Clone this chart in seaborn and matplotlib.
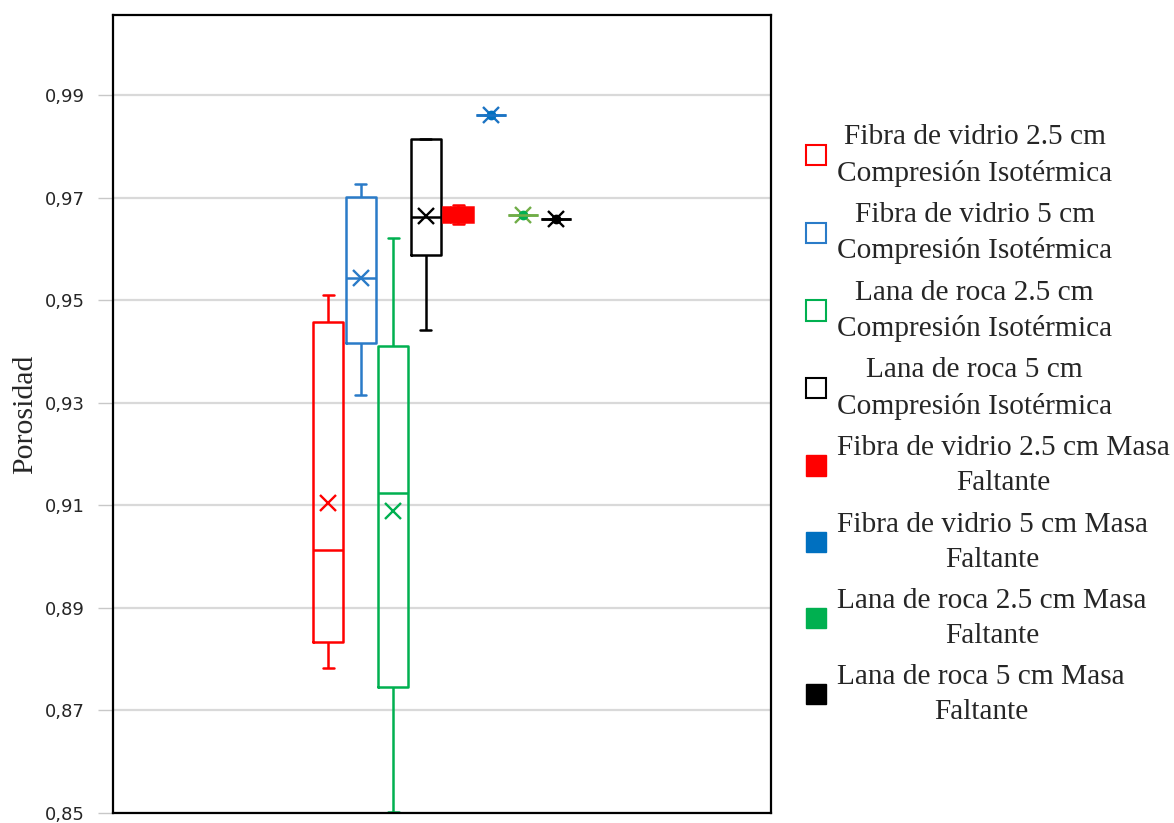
import matplotlib
matplotlib.use("Agg")
import matplotlib.pyplot as plt
from matplotlib.patches import Patch
import numpy as np
import pandas as pd
import seaborn as sns

# Datos (resumen de cinco numeros + media por serie)
series = [
    "Fibra de vidrio 2.5 cm\nCompresión Isotérmica",
    "Fibra de vidrio 5 cm\nCompresión Isotérmica",
    "Lana de roca 2.5 cm\nCompresión Isotérmica",
    "Lana de roca 5 cm\nCompresión Isotérmica",
    "Fibra de vidrio 2.5 cm Masa\nFaltante",
    "Fibra de vidrio 5 cm Masa\nFaltante",
    "Lana de roca 2.5 cm Masa\nFaltante",
    "Lana de roca 5 cm Masa\nFaltante",
]
minimos = [0.8782, 0.9315, 0.8502, 0.9441, 0.9649, 0.9861, 0.9666, 0.9659]
q1 = [0.8833, 0.9417, 0.8745, 0.9588, 0.9653, 0.9861, 0.9666, 0.9659]
medianas = [0.9013, 0.9544, 0.9125, 0.9663, 0.9667, 0.9861, 0.9666, 0.9659]
q3 = [0.9457, 0.9701, 0.9411, 0.9815, 0.9682, 0.9861, 0.9666, 0.9659]
maximos = [0.9511, 0.9727, 0.9621, 0.9815, 0.9685, 0.9861, 0.9666, 0.9659]
medias = [0.9104, 0.9544, 0.9088, 0.9664, 0.9667, 0.9861, 0.9666, 0.9659]

yticks = [0.85, 0.87, 0.89, 0.91, 0.93, 0.95, 0.97, 0.99]
ytick_labels = ["0,85", "0,87", "0,89", "0,91", "0,93", "0,95", "0,97", "0,99"]

colores_linea = ["#FF0000", "#2A7BC8", "#00B050", "#000000",
                 "#FF0000", "#1C74C4", "#70AD47", "#000000"]
colores_leyenda = ["#FF0000", "#2A7BC8", "#00B050", "#000000",
                   "#FF0000", "#0070C0", "#00B050", "#000000"]
relleno = [False, False, False, False, True, True, True, True]

rows = []
for s, a, b, c, d, e in zip(series, minimos, q1, medianas, q3, maximos):
    for v in (a, b, c, d, e):
        rows.append({"serie": s, "porosidad": v})
df = pd.DataFrame(rows)
df_media = pd.DataFrame({"serie": series, "media": medias})

sns.set_style("white")
plt.rcParams["font.family"] = ["DejaVu Sans"]

fig = plt.figure(figsize=(11.74, 8.23), dpi=100)
ax = fig.add_axes([113 / 1174, 1 - 813 / 823, 658 / 1174, 798 / 823])

for i, s in enumerate(series):
    c = colores_linea[i]
    sns.boxplot(data=df[df["serie"] == s], x="serie", y="porosidad", order=series,
                color=c, linecolor=c, fill=relleno[i], saturation=1,
                whis=(0, 100), width=0.92, linewidth=1.8, showfliers=False,
                capwidths=0.34, ax=ax)
    sns.pointplot(data=df_media[df_media["serie"] == s], x="serie", y="media",
                  order=series, color=c, marker="x", linestyle="none",
                  errorbar=None, markersize=12, markeredgewidth=1.7, ax=ax)
    if relleno[i]:
        sns.pointplot(data=df_media[df_media["serie"] == s], x="serie", y="media",
                      order=series, color=colores_leyenda[i], marker="o",
                      linestyle="none", errorbar=None, markersize=5, ax=ax)

ax.set_xlim(-6.62, 13.62)
ax.set_ylim(0.85, 0.85 + 798 / 5128)
ax.set_xticks([])
ax.set_xlabel("")
ax.set_yticks(yticks)
ax.set_yticklabels(ytick_labels, fontsize=13)
ax.tick_params(axis="y", length=10.5, width=1, color="#C8C8C8", pad=10, left=True)
ax.set_axisbelow(True)
ax.yaxis.grid(True, color="#D9D9D9", linewidth=1.6)
for sp in ax.spines.values():
    sp.set_color("black")
    sp.set_linewidth(1.6)

ax.set_ylabel("Porosidad", family="Liberation Serif", fontsize=21.5)
ax.yaxis.set_label_coords(-0.114, 0.5)

handles = []
for i in range(len(series)):
    if relleno[i]:
        handles.append(Patch(facecolor=colores_leyenda[i], edgecolor=colores_leyenda[i], linewidth=1))
    else:
        handles.append(Patch(facecolor="white", edgecolor=colores_leyenda[i], linewidth=1.5))
leg = fig.legend(handles, series, loc="center left", bbox_to_anchor=(806 / 1174, 0.484),
                 frameon=False, prop={"family": "Liberation Serif", "size": 21.2},
                 handlelength=0.68, handleheight=0.68, handletextpad=0.38,
                 labelspacing=0.52, borderpad=0, borderaxespad=0)
for t in leg.get_texts():
    t.set_multialignment("center")
    t.set_linespacing(1.45)

fig.savefig("out.png", dpi=100)
